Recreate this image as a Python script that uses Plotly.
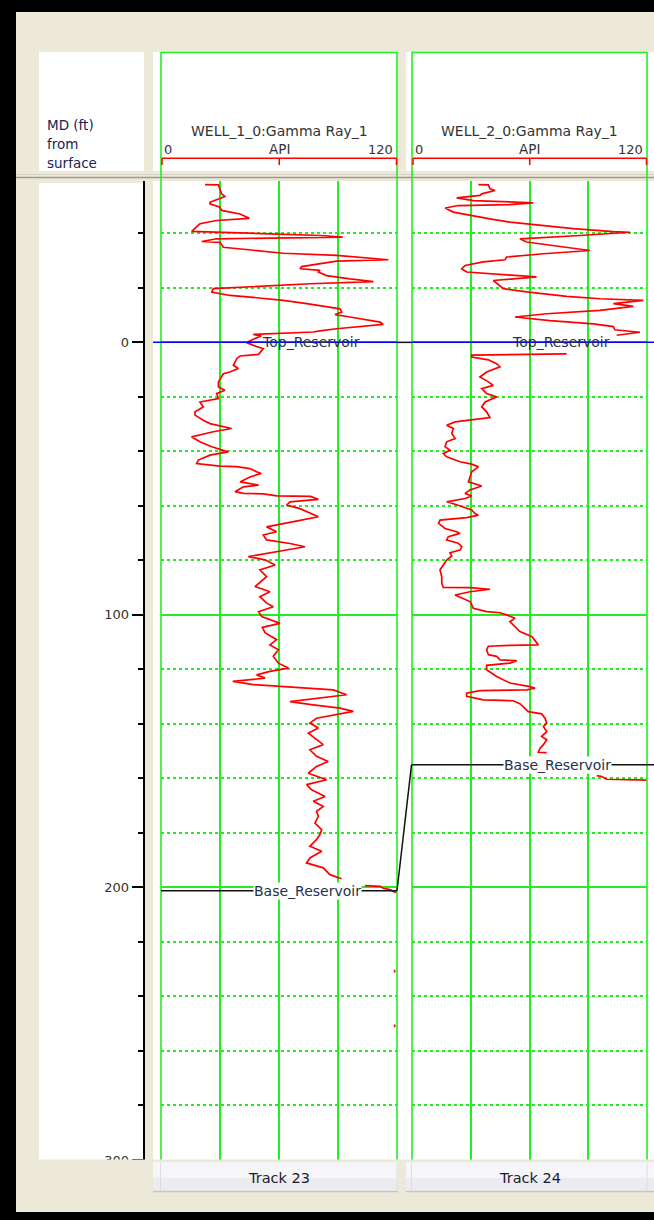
import plotly.graph_objects as go

# ---------------- data ----------------
track_names = ["Track 23", "Track 24"]
curve_titles = ["WELL_1_0:Gamma Ray_1", "WELL_2_0:Gamma Ray_1"]
scale_min, scale_max, scale_unit = 0, 120, "API"
depth_range = [300.0, -59.2]
depth_title = ["MD (ft)", "from", "surface"]

well1_depth = [
    -57.9, -57.8, -54.5, -53.5, -51.4, -50.8, -49.6, -48.4, -47.1, -45.5,
    -44.7, -43.5, -40.7, -40.1, -39.2, -38.6, -38.0, -37.0, -36.7, -34.9,
    -34.3, -33.3, -32.7, -31.9, -30.9, -30.3, -29.8, -27.8, -27.0, -26.4,
    -25.8, -24.5, -23.3, -22.3, -21.5, -20.9, -20.5, -19.7, -18.4, -17.2,
    -16.6, -15.4, -14.2, -13.2, -12.3, -11.1, -10.2, -9.3, -7.4, -6.6,
    -5.6, -5.0, -4.2, -3.8, -2.9, -2.4, -0.5, 0.1, 1.1, 2.3,
    4.4, 5.0, 6.0, 8.4, 9.6, 10.9, 11.5, 12.7, 14.5, 16.4,
    17.6, 18.8, 20.6, 21.9, 23.7, 25.5, 26.7, 28.6, 29.8, 31.6,
    32.8, 34.7, 36.5, 38.3, 40.2, 41.4, 43.2, 44.5, 45.4, 45.6,
    46.3, 47.5, 48.1, 49.4, 51.2, 52.4, 53.0, 54.8, 55.4, 55.6,
    56.3, 56.5, 57.6, 58.5, 59.7, 61.0, 62.2, 64.0, 65.3, 66.5,
    67.7, 69.5, 70.7, 72.5, 73.8, 75.0, 76.2, 77.4, 78.6, 79.8,
    81.7, 83.5, 86.0, 89.6, 91.5, 93.3, 95.7, 97.0, 98.8, 100.6,
    103.1, 104.6, 106.5,
    109.1, 111.0, 112.8, 115.2, 117.7, 119.5, 120.7, 122.0, 123.2, 124.4,
    125.6, 126.3, 127.5, 129.3, 130.5, 131.8, 133.0, 134.2, 135.4, 136.6,
    137.9, 139.7, 141.5, 143.4, 145.2, 147.6, 149.5, 151.9, 153.8, 155.6,
    158.1, 160.5, 162.3, 164.2, 166.6, 168.4, 170.3, 172.1, 173.9, 176.4,
    178.8, 180.6, 182.4, 184.9, 186.7, 189.2, 191.0, 192.8, 195.3, 196.8,
    None, 199.3, 199.6, 200.3, 200.8, 201.9,
    None, 230.2, 231.2, None, 250.3, 251.3]
well1_gr = [
    22.4, 29.2, 30.8, 32.5, 24.9, 24.9, 30.0, 30.8, 40.2, 44.9,
    28.3, 19.8, 15.6, 45.2, 80.9, 92.4, 28.3, 20.7, 30.0, 31.7,
    40.2, 52.0, 62.2, 89.3, 106.3, 115.6, 89.3, 71.5, 70.7, 80.9,
    80.0, 84.2, 96.1, 108.0, 75.8, 57.1, 43.6, 26.6, 25.8, 35.1,
    45.2, 62.2, 74.1, 82.5, 91.0, 91.9, 88.5, 96.1, 111.4, 113.0,
    96.1, 89.3, 80.9, 77.5, 46.9, 51.0, 45.0, 43.6, 47.0, 52.0,
    49.6, 40.2, 38.5, 36.8, 39.3, 35.0, 31.7, 30.8, 29.2, 29.2,
    32.5, 28.3, 29.2, 19.8, 21.5, 17.3, 17.3, 21.5, 24.9, 35.9,
    26.6, 15.6, 19.8, 25.8, 34.2, 24.9, 19.0, 18.1, 30.0, 38.5,
    45.2, 48.6, 51.0, 45.2, 40.2, 49.6, 41.9, 37.6, 42.0, 52.0,
    59.0, 76.0, 80.0, 65.6, 63.9, 70.7, 74.1, 80.0, 70.7, 62.2,
    53.7, 58.8, 52.0, 53.7, 65.6, 73.2, 63.9, 55.4, 44.4, 52.9,
    58.0, 50.3, 53.7, 47.8, 55.4, 50.3, 53.7, 57.1, 49.6, 51.2,
    60.5, 51.5, 52.9,
    58.8, 55.4, 59.7, 57.1, 59.7, 64.8, 55.4, 48.6, 52.9, 36.5,
    47.0, 60.5, 87.6, 94.4, 79.1, 65.6, 77.4, 91.0, 97.8, 89.3,
    79.1, 75.7, 80.0, 74.9, 78.3, 82.5, 75.7, 79.1, 85.0, 79.1,
    74.9, 84.2, 74.0, 76.6, 83.4, 77.4, 82.5, 79.1, 80.0, 78.3,
    81.7, 80.8, 79.1, 75.7, 81.7, 75.7, 74.0, 82.5, 85.9, 91.8,
    None, 103.7, 111.4, 113.0, 116.4, 119.5,
    None, 118.8, 118.8, None, 118.8, 118.8]

well2_depth = [
    -57.9, -57.8, -56.3, -55.7, -54.5, -53.9, -53.0, -52.0, -51.2, -50.5,
    -50.2, -49.3, -47.8, -46.5, -45.3, -44.1, -42.9, -41.7, -40.6, -40.4,
    -39.2, -38.0, -36.8, -35.5, -33.7, -32.5, -31.3, -30.3, -29.5, -28.2,
    -27.0, -25.8, -25.2, -24.0, -22.7, -20.9, -19.7, -18.5, -16.9, -16.0,
    -15.4, -14.2, -13.2, -11.7, -10.5, -9.3, -8.0, -6.8, -5.8, -4.6,
    -3.7, -2.6, None,
    4.2, 4.5, 4.7, 5.4, 6.4, 7.8, 9.0, 10.9, 12.7, 14.5,
    15.8, 17.0, 18.8, 20.0, 21.9, 23.7, 25.5, 27.6, 28.6, 29.2,
    30.4, 31.6, 33.4, 35.3, 36.5, 38.3, 39.6, 40.8, 42.0, 43.8,
    44.7, 45.7, 47.5, 49.4, 51.2, 52.7, 54.2, 55.4, 56.4, 57.3,
    58.5, 59.4, 60.3, 61.5, 62.8, 63.4, 64.3, 65.2, 66.4, 68.3,
    69.5, 70.1, 71.3, 72.5, 73.7, 75.0, 76.2, 77.2, 78.4, 79.9,
    81.7, 83.5, 86.0, 88.4, 89.9, 90.0, 90.6, 91.5, 92.7, 94.0,
    95.1, 96.3, 97.6, 98.8, 99.2, 100.0, 101.2, 102.5, 104.3, 106.1,
    108.0,
    110.4, 111.0, 111.2, 111.5, 112.8, 114.6, 115.2, 116.5, 116.8, 117.7,
    118.5, 120.1, 122.6, 125.0, 126.3, 126.9, 127.5, 127.8, 128.7, 129.9,
    131.2, 131.5, 132.6, 133.9, 135.5, 136.3, 137.9, 139.7, 141.0, 142.8,
    144.6, 145.8, 147.6, 148.9, 150.4, 150.5,
    None, 159.0, 159.3, 160.3, 160.6]
well2_gr = [
    33.9, 39.0, 39.8, 42.4, 35.6, 34.7, 22.8, 31.3, 61.9, 50.0,
    23.7, 16.9, 21.1, 30.5, 39.8, 50.0, 67.1, 82.4, 102.8, 111.3,
    85.8, 55.1, 58.5, 72.1, 90.9, 67.1, 48.3, 47.5, 36.4, 27.1,
    25.4, 27.9, 39.8, 63.6, 41.5, 44.9, 46.6, 58.5, 79.0, 96.0,
    118.1, 102.8, 113.0, 96.0, 68.8, 52.6, 70.4, 92.6, 102.8, 103.6,
    116.4, 104.5, None,
    79.0, 43.2, 30.5, 30.5, 39.0, 43.2, 44.9, 38.1, 34.7, 39.0,
    41.5, 35.6, 38.1, 43.2, 37.3, 35.6, 38.1, 39.8, 29.6, 22.0,
    17.7, 21.1, 20.3, 22.0, 17.7, 16.9, 19.4, 16.0, 17.7, 24.5,
    30.5, 33.9, 30.5, 29.6, 28.8, 35.6, 29.6, 27.1, 30.5, 27.1,
    17.7, 22.0, 26.2, 30.5, 32.2, 33.9, 27.9, 14.3, 13.5, 16.9,
    22.8, 24.5, 18.6, 17.7, 23.6, 25.4, 24.5, 19.4, 20.3, 17.7,
    16.0, 14.3, 15.2, 15.2, 16.0, 29.6, 39.8, 29.6, 22.0, 26.2,
    29.6, 30.5, 31.3, 38.1, 44.9, 48.3, 52.6, 50.0, 52.6, 55.1,
    61.3,
    63.6, 64.5, 50.0, 39.0, 38.1, 39.0, 43.2, 45.0, 53.5, 50.0,
    38.1, 38.1, 43.2, 50.0, 60.3, 62.9, 58.5, 34.7, 27.9, 27.9,
    36.4, 51.7, 55.1, 56.8, 59.4, 66.2, 67.9, 68.8, 67.1, 68.8,
    66.2, 68.8, 67.1, 65.4, 64.5, 68.8,
    None, 94.3, 96.9, 99.4, 119.8]

marker_names = ["Top_Reservoir", "Base_Reservoir"]
well1_marker_depth = [0.0, 201.2]
well2_marker_depth = [0.0, 155.0]

# ---------------- styling / layout helpers ----------------
W, H = 654, 1220
BEIGE = "#ECE9D8"
GREEN = "#22ee22"
RED = "#ff0000"
FONT = "DejaVu Sans"


def fx(px):
    return px / W


def fy(py):
    return 1 - py / H


tracks = [  # pixel geometry of the two tracks
    dict(left=161, right=397, hdr_l=153, hdr_r=398, foot_l=153, foot_r=398),
    dict(left=412, right=647, hdr_l=406, hdr_r=654, foot_l=406, foot_r=654),
]

fig = go.Figure()
fig.add_trace(go.Scatter(x=well1_gr, y=well1_depth, mode="lines", xaxis="x", yaxis="y",
                         line=dict(color=RED, width=1.7), connectgaps=False,
                         hoverinfo="skip", showlegend=False))
fig.add_trace(go.Scatter(x=well2_gr, y=well2_depth, mode="lines", xaxis="x2", yaxis="y",
                         line=dict(color=RED, width=1.7), connectgaps=False,
                         hoverinfo="skip", showlegend=False))

shapes = []


def rect(x0, y0, x1, y1, color, layer="below"):
    shapes.append(dict(type="rect", xref="paper", yref="paper", x0=fx(x0), x1=fx(x1),
                       y0=fy(y0), y1=fy(y1), fillcolor=color, line=dict(width=0), layer=layer))


def pline(x0, y0, x1, y1, color, width=1.5, layer="above"):
    shapes.append(dict(type="line", xref="paper", yref="paper", x0=fx(x0), x1=fx(x1),
                       y0=fy(y0), y1=fy(y1), line=dict(color=color, width=width), layer=layer))


# white panels
rect(39, 52, 144, 171, "white")
rect(39, 183, 144, 1160, "white")
rect(153, 181, 654, 1160, "white")
for t in tracks:
    rect(t["hdr_l"], 52, t["hdr_r"], 171, "white")

# separator between header and data
pline(16, 174.5, 654, 174.5, "#d6d3c6", 1, "below")
pline(16, 177.5, 654, 177.5, "#9c9a92", 1.5, "below")

# track green borders and header scale bars
for t in tracks:
    pline(t["left"], 52, t["left"], 1160, GREEN, 1.6)
    pline(t["right"], 52, t["right"], 1160, GREEN, 1.6)
    pline(t["left"], 52.5, t["right"], 52.5, GREEN, 1.6)
    l, r = t["left"] + 1, t["right"] - 0.5
    m = (l + r) / 2
    pline(l, 158.3, r, 158.3, RED, 1.5)
    for xx in (l, m, r):
        pline(xx, 158.3, xx, 165, RED, 1.5)

# markers (depth in data coords)
for i, name in enumerate(marker_names):
    d1, d2 = well1_marker_depth[i], well2_marker_depth[i]
    col = "#0000ff" if i == 0 else "#111111"
    x_start = 153 if i == 0 else 161
    shapes.append(dict(type="line", xref="paper", yref="y", x0=fx(x_start), x1=fx(397),
                       y0=d1, y1=d1, line=dict(color=col, width=1.5), layer="above"))
    shapes.append(dict(type="line", xref="paper", yref="y", x0=fx(411.5), x1=fx(654),
                       y0=d2, y1=d2, line=dict(color=col, width=1.5), layer="above"))
    shapes.append(dict(type="line", xref="paper", yref="y", x0=fx(397), x1=fx(411.5),
                       y0=d1, y1=d2, line=dict(color="#111111", width=1.5), layer="above"))

# bottom beige strip (cuts the last depth label) + footer tabs
rect(16, 1159.6, 654, 1212, BEIGE, "above")
for t in tracks:
    rect(t["foot_l"], 1162, t["foot_r"], 1192, "#f6f6f8", "above")
    rect(t["foot_l"], 1178, t["foot_r"], 1192, "#ececf0", "above")
    pline(t["foot_l"], 1191.5, t["foot_r"], 1191.5, "#c4c4cc", 1.5)
    pline(t["left"] - 0.5, 1163, t["left"] - 0.5, 1190, "#dcdce2", 1)
    pline(t["right"], 1163, t["right"], 1190, "#dcdce2", 1)

# black window frame
rect(0, 0, 16, 1220, "#000000", "above")
rect(0, 0, 654, 12, "#000000", "above")
rect(0, 1212, 654, 1220, "#000000", "above")

annotations = []


def ann(text, x, y, xanchor="center", size=14, color="#333333"):
    annotations.append(dict(text=text, xref="paper", yref="paper", x=fx(x), y=fy(y),
                            xanchor=xanchor, yanchor="middle", showarrow=False,
                            font=dict(family=FONT, size=size, color=color)))


# depth header
for txt, yy in zip(depth_title, [125, 144, 163]):
    ann(txt, 45, yy, "left", 13.5, "#1a2452")

# track headers and footers
for i, t in enumerate(tracks):
    l, r = t["left"], t["right"]
    c = (l + r) / 2
    ann(curve_titles[i], c, 131, "center", 14, "#333333")
    ann(str(scale_min), l + 0.5, 149, "left", 13, "#333333")
    ann(scale_unit, c, 149, "center", 13.5, "#333333")
    ann(str(scale_max), r - 2, 149, "right", 13, "#333333")
    ann(track_names[i], c, 1178, "center", 14.5, "#1b1b30")

# marker labels (data coords)
for i, name in enumerate(marker_names):
    for ax, d in (("x", well1_marker_depth[i]), ("x2", well2_marker_depth[i])):
        a = dict(text=name, xref=ax, yref="y", x=102, y=d, xanchor="right", yanchor="middle",
                 showarrow=False, font=dict(family=FONT, size=14, color="#25304a"))
        if i == 1:
            a.update(bgcolor="white", borderpad=0)
        annotations.append(a)

xcommon = dict(range=[scale_min, scale_max], anchor="y", showgrid=True, gridcolor=GREEN,
               gridwidth=1.5, dtick=30, tick0=0, showticklabels=False, ticks="",
               zeroline=False, showline=False, fixedrange=True, automargin=False)

fig.update_layout(
    width=W, height=H, autosize=False, margin=dict(l=0, r=0, t=0, b=0, pad=0),
    paper_bgcolor=BEIGE, plot_bgcolor="white", showlegend=False,
    xaxis=dict(domain=[fx(tracks[0]["left"]), fx(tracks[0]["right"])], **xcommon),
    xaxis2=dict(domain=[fx(tracks[1]["left"]), fx(tracks[1]["right"])], **xcommon),
    yaxis=dict(domain=[fy(1160), fy(181)], range=depth_range, anchor="free",
               position=fx(143.5), side="left", showline=True, linecolor="#000000",
               linewidth=1.5, ticks="outside", ticklen=11, tickwidth=1.5,
               tickcolor="#000000", dtick=100, tick0=0, automargin=False,
               tickfont=dict(family=FONT, size=13, color="#333333"),
               showgrid=True, gridcolor=GREEN, gridwidth=1.5, zeroline=False,
               fixedrange=True,
               minor=dict(dtick=20, tick0=0, ticks="outside", ticklen=5, tickwidth=1.5,
                          tickcolor="#000000", showgrid=True, gridcolor=GREEN,
                          gridwidth=1.5, griddash="dot")),
    shapes=shapes,
    annotations=annotations,
)

fig.write_html("out.html")
